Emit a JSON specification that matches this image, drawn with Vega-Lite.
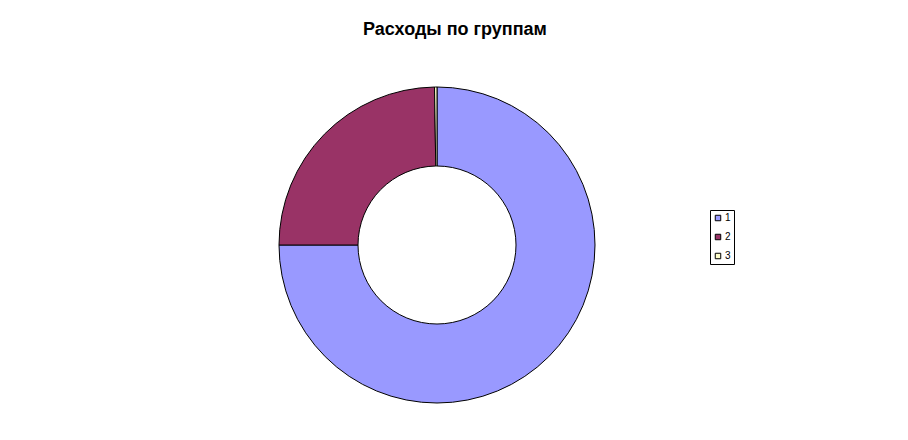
{
  "$schema": "https://vega.github.io/schema/vega-lite/v6.json",
  "autosize": {"type": "none"},
  "width": 874,
  "height": 390,
  "padding": {"left": 0, "right": 34, "top": 50, "bottom": 0},
  "background": "white",
  "title": {
    "text": "Расходы по группам",
    "font": "Liberation Sans",
    "fontSize": 18,
    "fontWeight": "bold",
    "color": "black",
    "anchor": "middle",
    "dx": 18,
    "offset": 11
  },
  "data": {
    "values": [
      {"group": "1", "value": 75.0},
      {"group": "2", "value": 24.75},
      {"group": "3", "value": 0.25}
    ]
  },
  "mark": {"type": "arc", "outerRadius": 158, "innerRadius": 79, "stroke": "black", "strokeWidth": 1},
  "encoding": {
    "theta": {"field": "value", "type": "quantitative", "stack": true},
    "order": {"field": "group", "type": "ordinal"},
    "color": {
      "field": "group",
      "type": "nominal",
      "scale": {"domain": ["1", "2", "3"], "range": ["#9999FF", "#993366", "#FFFFCC"]},
      "legend": {
        "title": null,
        "orient": "none",
        "legendX": 710,
        "legendY": 160,
        "strokeColor": "black",
        "padding": 3,
        "symbolType": "square",
        "symbolSize": 30,
        "symbolStrokeColor": "black",
        "symbolStrokeWidth": 1,
        "labelFont": "Liberation Sans",
        "labelFontSize": 10,
        "labelColor": "black",
        "rowPadding": 9,
        "labelOffset": 2
      }
    }
  },
  "config": {"view": {"stroke": null}}
}
